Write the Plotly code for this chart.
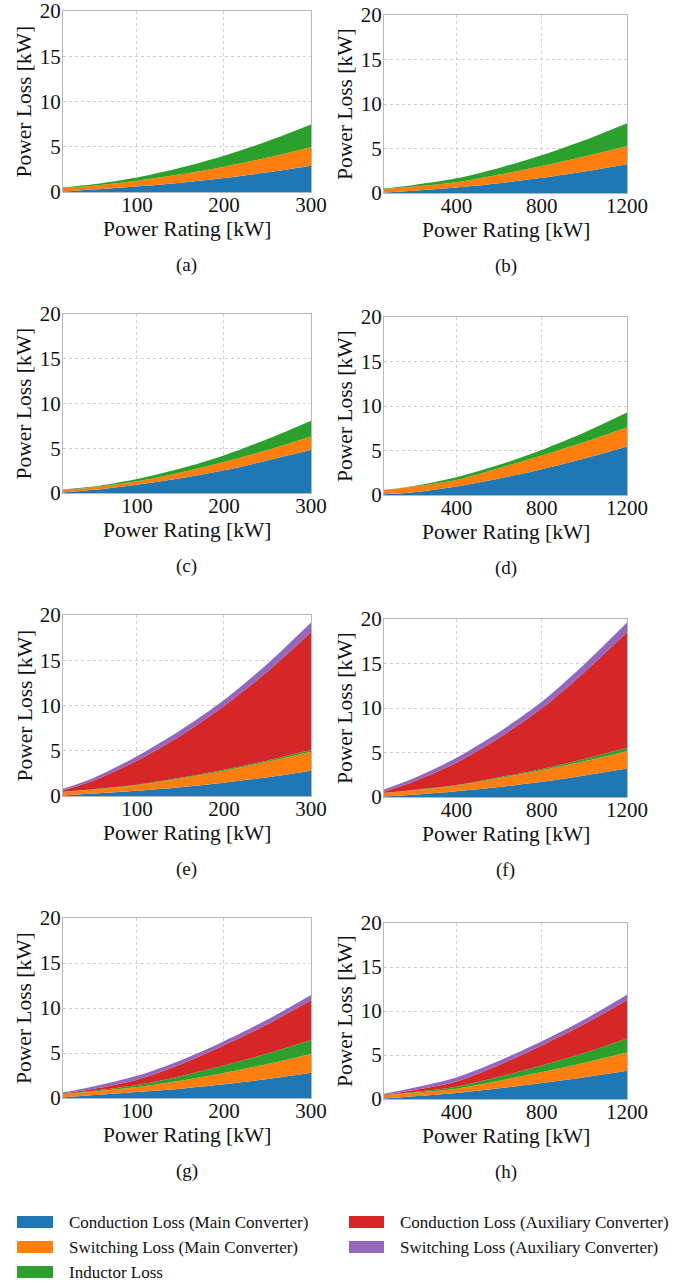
import plotly.graph_objects as go

# Power rating sweep points [kW]
rating_300 = [15, 50, 100, 150, 200, 250, 300]
rating_1200 = [60, 200, 400, 600, 800, 1000, 1200]

series_names = [
    "Conduction Loss (Main Converter)",
    "Switching Loss (Main Converter)",
    "Inductor Loss",
    "Conduction Loss (Auxiliary Converter)",
    "Switching Loss (Auxiliary Converter)",
]
series_colors = ["#1f77b4", "#ff7f0e", "#2ca02c", "#d62728", "#9467bd"]

# Loss components per case [kW]
# (a)
a_cond_main = [0.05, 0.28, 0.62, 1.03, 1.55, 2.17, 2.90]
a_sw_main = [0.40, 0.42, 0.63, 0.92, 1.25, 1.63, 2.05]
a_ind = [0.05, 0.15, 0.35, 0.72, 1.20, 1.80, 2.50]
# (b)
b_cond_main = [0.05, 0.25, 0.62, 1.10, 1.70, 2.41, 3.23]
b_sw_main = [0.40, 0.47, 0.58, 0.97, 1.34, 1.70, 2.06]
b_ind = [0.05, 0.18, 0.45, 0.75, 1.20, 1.81, 2.55]
# (c)
c_cond_main = [0.05, 0.35, 0.93, 1.64, 2.53, 3.64, 4.83]
c_sw_main = [0.30, 0.30, 0.37, 0.65, 0.93, 1.16, 1.49]
c_ind = [0.05, 0.07, 0.26, 0.44, 0.74, 1.22, 1.75]
# (d)
d_cond_main = [0.08, 0.30, 0.95, 1.85, 2.90, 4.10, 5.45]
d_sw_main = [0.47, 0.65, 0.74, 1.16, 1.53, 1.85, 2.13]
d_ind = [0.03, 0.05, 0.30, 0.38, 0.64, 1.08, 1.69]
# (e)
e_cond_main = [0.05, 0.27, 0.58, 0.97, 1.47, 2.07, 2.80]
e_sw_main = [0.40, 0.45, 0.62, 0.97, 1.33, 1.72, 2.10]
e_ind = [0.02, 0.03, 0.05, 0.07, 0.10, 0.14, 0.18]
e_cond_aux = [0.13, 0.95, 2.65, 4.65, 7.05, 9.83, 13.02]
e_sw_aux = [0.20, 0.30, 0.50, 0.60, 0.65, 0.85, 1.07]
# (f)
f_cond_main = [0.05, 0.25, 0.64, 1.12, 1.70, 2.42, 3.20]
f_sw_main = [0.40, 0.50, 0.66, 0.98, 1.30, 1.60, 1.95]
f_ind = [0.03, 0.05, 0.06, 0.10, 0.15, 0.25, 0.38]
f_cond_aux = [0.12, 0.95, 2.49, 4.45, 6.81, 9.75, 12.97]
f_sw_aux = [0.25, 0.35, 0.55, 0.65, 0.74, 0.90, 1.10]
# (g)
g_cond_main = [0.05, 0.32, 0.67, 1.04, 1.52, 2.11, 2.81]
g_sw_main = [0.37, 0.40, 0.55, 0.89, 1.26, 1.66, 2.08]
g_ind = [0.03, 0.08, 0.22, 0.50, 0.82, 1.17, 1.55]
g_cond_aux = [0.05, 0.22, 0.60, 1.30, 2.25, 3.26, 4.41]
g_sw_aux = [0.10, 0.25, 0.42, 0.44, 0.46, 0.51, 0.59]
# (h)
h_cond_main = [0.05, 0.30, 0.68, 1.21, 1.81, 2.47, 3.20]
h_sw_main = [0.37, 0.42, 0.49, 0.86, 1.25, 1.66, 2.08]
h_ind = [0.03, 0.08, 0.23, 0.45, 0.75, 1.09, 1.59]
h_cond_aux = [0.05, 0.22, 0.60, 1.35, 2.27, 3.29, 4.38]
h_sw_aux = [0.10, 0.26, 0.45, 0.47, 0.48, 0.53, 0.60]

panel_labels = ["(a)", "(b)", "(c)", "(d)", "(e)", "(f)", "(g)", "(h)"]
x_ticks_300 = [100, 200, 300]
x_ticks_1200 = [400, 800, 1200]
y_ticks = [0, 5, 10, 15, 20]

panels = [
    (rating_300, [a_cond_main, a_sw_main, a_ind]),
    (rating_1200, [b_cond_main, b_sw_main, b_ind]),
    (rating_300, [c_cond_main, c_sw_main, c_ind]),
    (rating_1200, [d_cond_main, d_sw_main, d_ind]),
    (rating_300, [e_cond_main, e_sw_main, e_ind, e_cond_aux, e_sw_aux]),
    (rating_1200, [f_cond_main, f_sw_main, f_ind, f_cond_aux, f_sw_aux]),
    (rating_300, [g_cond_main, g_sw_main, g_ind, g_cond_aux, g_sw_aux]),
    (rating_1200, [h_cond_main, h_sw_main, h_ind, h_cond_aux, h_sw_aux]),
]

W, H = 674, 1284
FONT = "Liberation Serif"

# plot boxes in pixels: (left, right, top, bottom)
boxes = [
    (63, 311, 11, 192), (384, 627, 15, 193),
    (63, 311, 314, 493), (384, 627, 317, 495),
    (63, 311, 615, 796), (384, 627, 619, 797),
    (63, 311, 918, 1098), (384, 627, 923, 1099),
]


def px_x(v):
    return v / W


def px_y(v):
    return 1 - v / H


fig = go.Figure()
annotations = []
shapes = []

for i, ((xs, comps), box) in enumerate(zip(panels, boxes)):
    n = i + 1
    xa = "x" if n == 1 else f"x{n}"
    ya = "y" if n == 1 else f"y{n}"
    for k, vals in enumerate(comps):
        fig.add_trace(go.Scatter(
            x=xs, y=vals, xaxis=xa, yaxis=ya,
            name=series_names[k], stackgroup=f"s{n}",
            mode="lines", line=dict(width=0, shape="spline", smoothing=0.8),
            fillcolor=series_colors[k], showlegend=False,
            hoverinfo="x+y+name",
        ))
    left, right, top, bottom = box
    right_col = (i % 2 == 1)
    xr = [60, 1200] if right_col else [15, 300]
    xt = x_ticks_1200 if right_col else x_ticks_300
    axis_common = dict(
        showline=True, mirror=True, linecolor="#b8b8b8", linewidth=1,
        showgrid=True, gridcolor="#cfcfcf", griddash="dot", gridwidth=1,
        zeroline=False, ticks="", ticklen=0, automargin=False,
        ticklabeloverflow="allow",
        tickfont=dict(family=FONT, size=21, color="#111"),
    )
    fig.update_layout({
        f"xaxis{'' if n == 1 else n}": dict(
            domain=[px_x(left), px_x(right)], anchor=ya, range=xr,
            tickvals=xt, ticklabelstandoff=-6, **axis_common),
        f"yaxis{'' if n == 1 else n}": dict(
            domain=[px_y(bottom), px_y(top)], anchor=xa, range=[0, 20],
            tickvals=y_ticks, ticklabelstandoff=-3, **axis_common),
    })
    cx = (left + right) / 2
    annotations.append(dict(
        text="Power Rating [kW]", xref="paper", yref="paper",
        x=px_x(cx), y=px_y(bottom + 37), xanchor="center", yanchor="middle",
        showarrow=False, font=dict(family=FONT, size=21.5, color="#111")))
    annotations.append(dict(
        text="Power Loss [kW]", xref="paper", yref="paper",
        x=px_x(left - 39), y=px_y((top + bottom) / 2), xanchor="center",
        yanchor="middle", textangle=-90, showarrow=False,
        font=dict(family=FONT, size=21.5, color="#111")))
    annotations.append(dict(
        text=panel_labels[i], xref="paper", yref="paper",
        x=px_x(cx), y=px_y(bottom + 73), xanchor="center", yanchor="middle",
        showarrow=False, font=dict(family=FONT, size=19, color="#111")))

# legend block
legend_entries = [
    (0, 17, 53, 67, 1222), (1, 17, 53, 67, 1247), (2, 17, 53, 67, 1272),
    (3, 349, 384, 398, 1222), (4, 349, 384, 398, 1247),
]
for k, x0, x1, tx, cy in legend_entries:
    shapes.append(dict(
        type="rect", xref="paper", yref="paper",
        x0=px_x(x0), x1=px_x(x1), y0=px_y(cy + 6), y1=px_y(cy - 6),
        fillcolor=series_colors[k], line=dict(width=0)))
    annotations.append(dict(
        text=series_names[k], xref="paper", yref="paper",
        x=px_x(tx), y=px_y(cy), xanchor="left", yanchor="middle",
        showarrow=False, font=dict(family=FONT, size=17, color="#111")))

fig.update_layout(
    width=W, height=H,
    margin=dict(l=0, r=0, t=0, b=0, pad=0, autoexpand=False),
    paper_bgcolor="white", plot_bgcolor="white",
    annotations=annotations, shapes=shapes, showlegend=False,
    font=dict(family=FONT),
)

# page body without default margins so the figure fills the window
page_css = (
    "document.documentElement.style.margin='0';"
    "document.body.style.margin='0';"
    "document.body.style.padding='0';"
    "document.body.style.overflow='hidden';"
)
fig.write_html("out.html", post_script=page_css)
